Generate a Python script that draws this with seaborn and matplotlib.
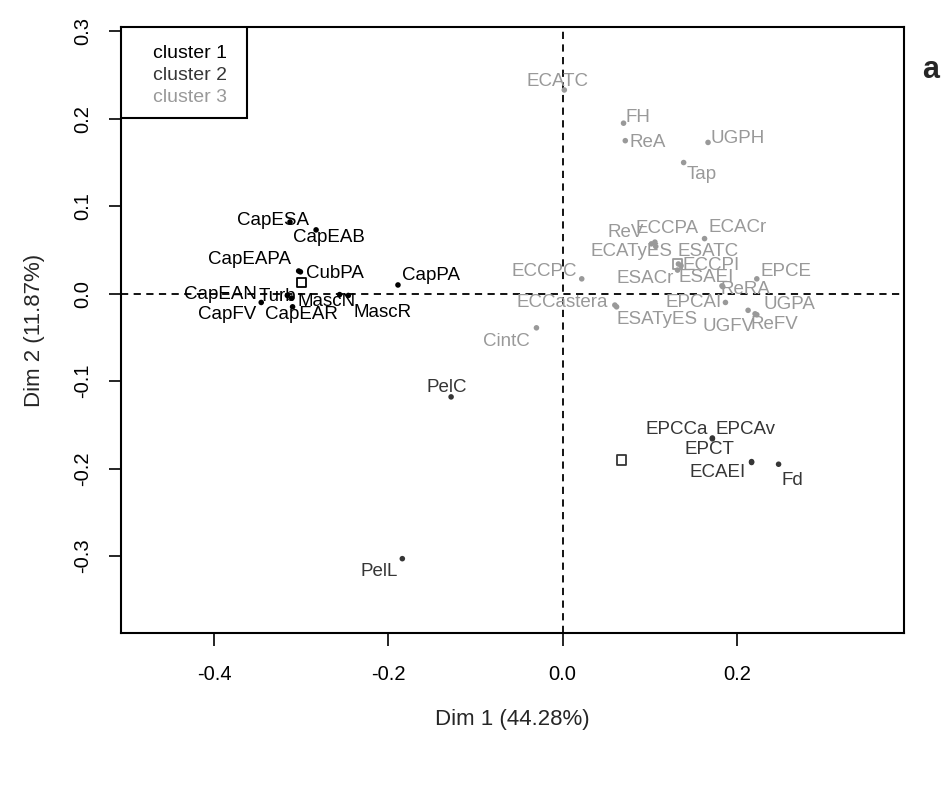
import matplotlib
matplotlib.use("Agg")
import matplotlib.pyplot as plt
import seaborn as sns
import pandas as pd
from matplotlib.patches import Rectangle

# ---------------- data ----------------
labels = ["CapESA", "CapEAB", "CapEAPA", "CubPA", "CapEAN", "Turb", "CapFV", "CapEAR",
          "MascN", "MascR", "CapPA",
          "PelC", "PelL", "EPCCa", "EPCAv", "EPCT", "ECAEI", "Fd",
          "ECATC", "FH", "ReA", "UGPH", "Tap", "ReV", "ECCPA", "ECACr", "ECATyES",
          "ESATC", "ECCPI", "ESACr", "ESAEI", "ReRA", "EPCE", "ECCPC", "ECCastera",
          "ESATyES", "EPCAI", "UGPA", "UGFV", "ReFV", "CintC"]
dim1 = [-0.313, -0.283, -0.303, -0.301, -0.316, -0.311, -0.346, -0.310,
        -0.256, -0.246, -0.189,
        -0.128, -0.184, 0.172, 0.172, 0.217, 0.217, 0.248,
        0.002, 0.070, 0.072, 0.167, 0.139, 0.102, 0.106, 0.163, 0.107,
        0.133, 0.136, 0.132, 0.183, 0.184, 0.223, 0.022, 0.060,
        0.062, 0.187, 0.213, 0.221, 0.223, -0.030]
dim2 = [0.082, 0.073, 0.026, 0.025, -0.002, -0.005, -0.010, -0.015,
        -0.001, -0.002, 0.010,
        -0.118, -0.303, -0.165, -0.166, -0.192, -0.193, -0.195,
        0.233, 0.195, 0.175, 0.173, 0.150, 0.057, 0.059, 0.063, 0.054,
        0.034, 0.032, 0.027, 0.009, 0.008, 0.017, 0.017, -0.013,
        -0.015, -0.010, -0.019, -0.023, -0.024, -0.039]
cluster = ["cluster 1"] * 11 + ["cluster 2"] * 7 + ["cluster 3"] * 23

center_names = ["cluster 1", "cluster 2", "cluster 3"]
center_dim1 = [-0.300, 0.068, 0.132]
center_dim2 = [0.013, -0.190, 0.034]

# label offsets (pixels) relative to each point
label_offsets = {
    "CapESA": (-17, 2), "CapEAB": (13, -8), "CapEAPA": (-49, 11), "CubPA": (35, -2),
    "CapEAN": (-67, 1), "Turb": (-14, 2), "CapFV": (-34, -12), "CapEAR": (9, -8),
    "MascN": (-13, -7), "MascR": (34, -17), "CapPA": (33, 9),
    "PelC": (-4, 9), "PelL": (-23, -13), "EPCCa": (-36, 8), "EPCAv": (33, 9),
    "EPCT": (-42, 12), "ECAEI": (-34, -10), "Fd": (14, -16),
    "ECATC": (-7, 8), "FH": (14, 6), "ReA": (22, -2), "UGPH": (30, 4), "Tap": (18, -12),
    "ReV": (-26, 11), "ECCPA": (12, 14), "ECACr": (33, 11), "ECATyES": (-24, -5),
    "ESATC": (30, 12), "ECCPI": (30, 0), "ESACr": (-32, -8), "ESAEI": (-16, 8),
    "ReRA": (23, -3), "EPCE": (29, 7), "ECCPC": (-37, 7), "ECCastera": (-53, 3),
    "ESATyES": (40, -13), "EPCAI": (-32, 0), "UGPA": (41, 6), "UGFV": (-27, -13),
    "ReFV": (18, -10), "CintC": (-30, -14),
}

palette = {"cluster 1": "#000000", "cluster 2": "#363636", "cluster 3": "#999999"}

df = pd.DataFrame({"label": labels, "Dim1": dim1, "Dim2": dim2, "cluster": cluster})
cdf = pd.DataFrame({"cluster": center_names, "Dim1": center_dim1, "Dim2": center_dim2})

# ---------------- style ----------------
sns.set_style("ticks")
plt.rcParams["font.family"] = ["Liberation Sans", "DejaVu Sans"]

fig = plt.figure(figsize=(9.44, 7.85), dpi=100)
ax = fig.add_axes([121 / 944, 1 - 633 / 785, (904 - 121) / 944, (633 - 27) / 785])

ax.axhline(0, color="black", lw=1.3, ls=(0, (4, 3)), zorder=1)
ax.axvline(0, color="black", lw=1.3, ls=(0, (4, 3)), zorder=1)

sns.scatterplot(data=df, x="Dim1", y="Dim2", hue="cluster", palette=palette,
                s=16, edgecolor="none", legend=False, ax=ax, zorder=3)
sns.scatterplot(data=cdf, x="Dim1", y="Dim2", hue="cluster", palette=palette,
                marker="s", s=45, linewidth=1.3, legend=False,
                ax=ax, zorder=3)
# open squares: set edge colours by cluster
coll = ax.collections[-1]
coll.set_facecolor("none")
coll.set_edgecolor([palette[c] for c in center_names])

for lab, x, y, c in zip(labels, dim1, dim2, cluster):
    dx, dy = label_offsets[lab]
    ax.annotate(lab, (x, y), xytext=(dx, dy), textcoords="offset pixels",
                ha="center", va="center", fontsize=13.5, color=palette[c], zorder=4)

ax.set_xlim(-0.507, 0.392)
ax.set_ylim(-0.388, 0.305)
ax.set_xticks([-0.4, -0.2, 0.0, 0.2])
ax.set_xticklabels(["-0.4", "-0.2", "0.0", "0.2"])
ax.set_yticks([-0.3, -0.2, -0.1, 0.0, 0.1, 0.2, 0.3])
ax.set_yticklabels(["-0.3", "-0.2", "-0.1", "0.0", "0.1", "0.2", "0.3"],
                   rotation=90, va="center")
ax.tick_params(axis="both", direction="out", length=9, width=1.2, labelsize=14.5,
               colors="black")
ax.tick_params(axis="x", pad=14)
ax.tick_params(axis="y", pad=12)
for sp in ax.spines.values():
    sp.set_visible(True)
    sp.set_linewidth(1.5)
    sp.set_color("black")

ax.set_xlabel("Dim 1 (44.28%)", fontsize=16, labelpad=18)
ax.set_ylabel("Dim 2 (11.87%)", fontsize=16, labelpad=20)

# legend box (R style, text only)
ax_w = 904 - 121
ax_h = 633 - 27
ax.add_patch(Rectangle((0, 1 - 91 / ax_h), 126 / ax_w, 91 / ax_h, transform=ax.transAxes,
                       facecolor="white", edgecolor="black", lw=1.5, zorder=5))
for i, name in enumerate(center_names):
    ax.text(32 / ax_w, 1 - (26 + 22.5 * i) / ax_h, name, transform=ax.transAxes,
            fontsize=14, color=palette[name], va="center", ha="left", zorder=6)

fig.text(931 / 944, 1 - 70 / 785, "a", fontsize=22, fontweight="bold",
         ha="center", va="center")

fig.savefig("out.png", dpi=100, facecolor="white")
